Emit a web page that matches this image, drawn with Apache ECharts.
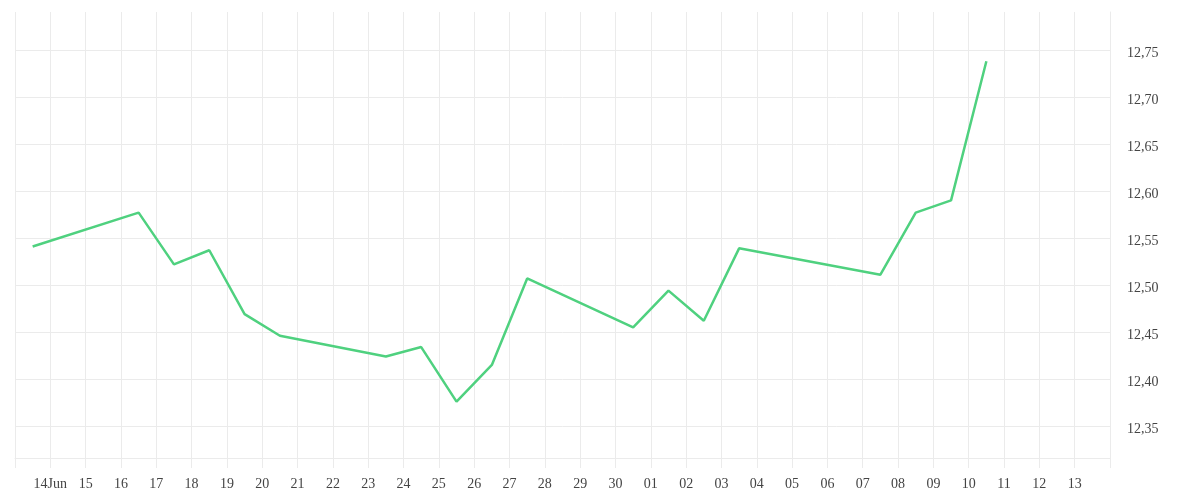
<!DOCTYPE html>
<html>
<head>
<meta charset="utf-8">
<script src="https://cdn.jsdelivr.net/npm/echarts@6/dist/echarts.min.js"></script>
<style>
  html, body { margin: 0; padding: 0; background: #ffffff; }
  #chart { width: 1200px; height: 500px; }
</style>
</head>
<body>
<div id="chart"></div>
<script>
// ---- data ----
const dates = [
  '2025-06-13', '2025-06-16', '2025-06-17', '2025-06-18', '2025-06-19', '2025-06-20',
  '2025-06-23', '2025-06-24', '2025-06-25', '2025-06-26', '2025-06-27',
  '2025-06-30', '2025-07-01', '2025-07-02', '2025-07-03',
  '2025-07-07', '2025-07-08', '2025-07-09', '2025-07-10'
];
const values = [
  12.541, 12.577, 12.522, 12.537, 12.469, 12.446,
  12.424, 12.434, 12.376, 12.415, 12.507,
  12.455, 12.494, 12.462, 12.539,
  12.511, 12.577, 12.590, 12.738
];
const xTickLabels = [
  '', '14Jun', '15', '16', '17', '18', '19', '20', '21', '22', '23', '24', '25', '26', '27', '28', '29', '30',
  '01', '02', '03', '04', '05', '06', '07', '08', '09', '10', '11', '12', '13', ''
];
const xStart = '2025-06-13';
const xEnd = '2025-07-14';
const yMin = 12.316;
const yMax = 12.7904;

// ---- helpers ----
const DAY = 86400000;
function utc(s) {
  const p = s.split('-').map(Number);
  return Date.UTC(p[0], p[1] - 1, p[2]);
}
const x0 = utc(xStart);
const x1 = utc(xEnd);
// each daily value is plotted at the middle of its day
const seriesData = dates.map((d, i) => [utc(d) + DAY / 2, values[i]]);

const gridColor = '#ebebeb';
const textColor = '#444';
const fontFamily = '"Liberation Serif", "DejaVu Serif", serif';

const chart = echarts.init(document.getElementById('chart'), null, { renderer: 'canvas' });
chart.setOption({
  backgroundColor: '#ffffff',
  animation: false,
  grid: { left: 15, right: 90, top: 12, bottom: 42, containLabel: false },
  xAxis: {
    type: 'value',
    min: x0,
    max: x1,
    interval: DAY,
    axisLine: { show: true, lineStyle: { color: gridColor, width: 1 } },
    axisTick: { show: true, length: 10, lineStyle: { color: gridColor, width: 1 } },
    splitLine: { show: true, lineStyle: { color: gridColor, width: 1 } },
    axisLabel: {
      show: true,
      margin: 19,
      color: textColor,
      fontFamily: fontFamily,
      fontSize: 14,
      hideOverlap: false,
      showMinLabel: true,
      showMaxLabel: true,
      formatter: function (v) {
        const idx = Math.round((v - x0) / DAY);
        return xTickLabels[idx] || '';
      }
    }
  },
  yAxis: {
    type: 'value',
    position: 'right',
    min: yMin,
    max: yMax,
    splitNumber: 10,
    scale: true,
    axisLine: { show: true, lineStyle: { color: gridColor, width: 1 } },
    axisTick: { show: false },
    splitLine: {
      show: true,
      lineStyle: {
        width: 1,
        color: [gridColor, gridColor, gridColor, gridColor, gridColor, gridColor,
                gridColor, gridColor, gridColor, gridColor, 'rgba(0,0,0,0)']
      }
    },
    axisLabel: {
      show: true,
      margin: 17,
      color: textColor,
      fontFamily: fontFamily,
      fontSize: 14,
      showMinLabel: false,
      showMaxLabel: false,
      rich: {
        v: {
          color: textColor,
          fontFamily: fontFamily,
          fontSize: 14,
          padding: [6, 0, 0, 0]
        }
      },
      formatter: function (v) {
        return '{v|' + v.toFixed(2).replace('.', ',') + '}';
      }
    }
  },
  series: [{
    type: 'line',
    data: seriesData,
    showSymbol: false,
    symbol: 'none',
    smooth: false,
    lineStyle: { color: '#4fd17f', width: 2.5 },
    itemStyle: { color: '#4fd17f' }
  }]
});
</script>
</body>
</html>
